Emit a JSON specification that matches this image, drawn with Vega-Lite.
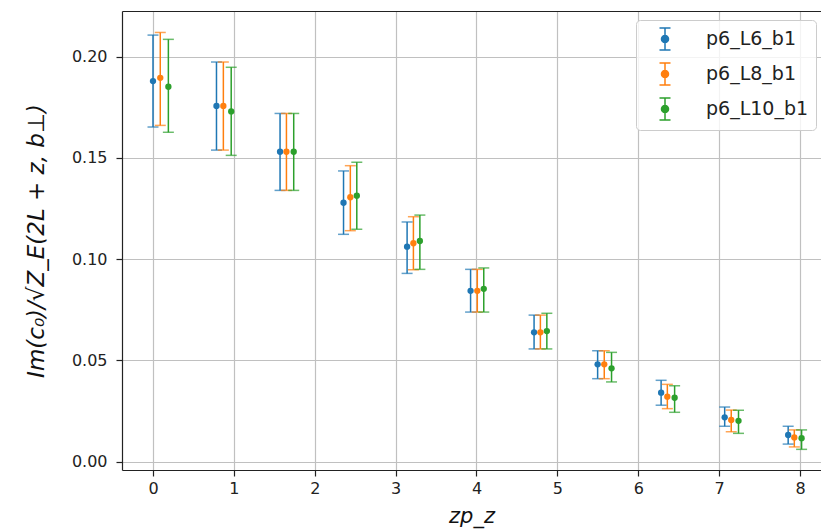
{
  "$schema": "https://vega.github.io/schema/vega-lite/v6.json",
  "autosize": {"type": "none"},
  "padding": {"left": 122, "top": 11, "right": 0, "bottom": 59},
  "width": 699,
  "height": 459,
  "background": "white",
  "config": {
    "font": "DejaVu Sans",
    "view": {"stroke": null},
    "axis": {
      "domainColor": "#222222",
      "domainWidth": 1.2,
      "tickColor": "#222222",
      "tickWidth": 1.2,
      "tickSize": 6,
      "labelFont": "DejaVu Sans",
      "labelFontSize": 16,
      "labelColor": "#222222",
      "labelPadding": 4,
      "gridColor": "#c0c0c0",
      "gridWidth": 1.2,
      "titleFont": "DejaVu Sans",
      "titleFontWeight": "normal",
      "titleFontStyle": "italic",
      "titleColor": "#111111"
    }
  },
  "data": {
    "values": [
      {"series": "p6_L6_b1", "zpz": 0.0, "val": 0.1880, "lo": 0.1653, "hi": 0.2107},
      {"series": "p6_L6_b1", "zpz": 0.785, "val": 0.1757, "lo": 0.1539, "hi": 0.1974},
      {"series": "p6_L6_b1", "zpz": 1.571, "val": 0.1531, "lo": 0.1340, "hi": 0.1720},
      {"series": "p6_L6_b1", "zpz": 2.356, "val": 0.1279, "lo": 0.1123, "hi": 0.1436},
      {"series": "p6_L6_b1", "zpz": 3.142, "val": 0.1062, "lo": 0.0930, "hi": 0.1184},
      {"series": "p6_L6_b1", "zpz": 3.927, "val": 0.0844, "lo": 0.0739, "hi": 0.0950},
      {"series": "p6_L6_b1", "zpz": 4.712, "val": 0.0639, "lo": 0.0557, "hi": 0.0724},
      {"series": "p6_L6_b1", "zpz": 5.498, "val": 0.0481, "lo": 0.0410, "hi": 0.0548},
      {"series": "p6_L6_b1", "zpz": 6.283, "val": 0.0341, "lo": 0.0279, "hi": 0.0402},
      {"series": "p6_L6_b1", "zpz": 7.069, "val": 0.0219, "lo": 0.0175, "hi": 0.0270},
      {"series": "p6_L6_b1", "zpz": 7.854, "val": 0.0132, "lo": 0.0087, "hi": 0.0175},

      {"series": "p6_L8_b1", "zpz": 0.09, "val": 0.1896, "lo": 0.1661, "hi": 0.2120},
      {"series": "p6_L8_b1", "zpz": 0.87, "val": 0.1757, "lo": 0.1539, "hi": 0.1974},
      {"series": "p6_L8_b1", "zpz": 1.65, "val": 0.1531, "lo": 0.1340, "hi": 0.1720},
      {"series": "p6_L8_b1", "zpz": 2.44, "val": 0.1306, "lo": 0.1141, "hi": 0.1462},
      {"series": "p6_L8_b1", "zpz": 3.22, "val": 0.1079, "lo": 0.0948, "hi": 0.1210},
      {"series": "p6_L8_b1", "zpz": 4.01, "val": 0.0844, "lo": 0.0739, "hi": 0.0950},
      {"series": "p6_L8_b1", "zpz": 4.79, "val": 0.0639, "lo": 0.0557, "hi": 0.0724},
      {"series": "p6_L8_b1", "zpz": 5.58, "val": 0.0481, "lo": 0.0410, "hi": 0.0548},
      {"series": "p6_L8_b1", "zpz": 6.36, "val": 0.0321, "lo": 0.0262, "hi": 0.0382},
      {"series": "p6_L8_b1", "zpz": 7.15, "val": 0.0206, "lo": 0.0148, "hi": 0.0255},
      {"series": "p6_L8_b1", "zpz": 7.93, "val": 0.0120, "lo": 0.0073, "hi": 0.0157},

      {"series": "p6_L10_b1", "zpz": 0.19, "val": 0.1852, "lo": 0.1627, "hi": 0.2086},
      {"series": "p6_L10_b1", "zpz": 0.967, "val": 0.1730, "lo": 0.1513, "hi": 0.1948},
      {"series": "p6_L10_b1", "zpz": 1.74, "val": 0.1531, "lo": 0.1340, "hi": 0.1720},
      {"series": "p6_L10_b1", "zpz": 2.52, "val": 0.1314, "lo": 0.1148, "hi": 0.1479},
      {"series": "p6_L10_b1", "zpz": 3.30, "val": 0.1090, "lo": 0.0950, "hi": 0.1218},
      {"series": "p6_L10_b1", "zpz": 4.09, "val": 0.0854, "lo": 0.0739, "hi": 0.0957},
      {"series": "p6_L10_b1", "zpz": 4.87, "val": 0.0645, "lo": 0.0557, "hi": 0.0733},
      {"series": "p6_L10_b1", "zpz": 5.67, "val": 0.0461, "lo": 0.0394, "hi": 0.0540},
      {"series": "p6_L10_b1", "zpz": 6.45, "val": 0.0316, "lo": 0.0244, "hi": 0.0375},
      {"series": "p6_L10_b1", "zpz": 7.24, "val": 0.0202, "lo": 0.0140, "hi": 0.0254},
      {"series": "p6_L10_b1", "zpz": 8.02, "val": 0.0116, "lo": 0.0061, "hi": 0.0157}
    ]
  },
  "encoding": {
    "color": {
      "field": "series",
      "type": "nominal",
      "scale": {
        "domain": ["p6_L6_b1", "p6_L8_b1", "p6_L10_b1"],
        "range": ["#1f77b4", "#ff7f0e", "#2ca02c"]
      },
      "legend": {
        "title": null,
        "orient": "none",
        "legendX": 514,
        "legendY": 9,
        "padding": 7,
        "fillColor": "rgba(255,255,255,0.8)",
        "strokeColor": "#cccccc",
        "cornerRadius": 4,
        "labelFont": "DejaVu Sans",
        "labelFontSize": 19,
        "labelColor": "#222222",
        "labelOffset": 29,
        "labelExpr": "datum.label + '\u2003'",
        "rowPadding": 7,
        "symbolOffset": 10,
        "symbolSize": 484,
        "symbolStrokeWidth": 1.5,
        "symbolType": "M0,-1L0,1M-0.5,-1L0.5,-1M-0.5,1L0.5,1M0.32,0A0.32,0.32,0,1,1,-0.32,0A0.32,0.32,0,1,1,0.32,0Z",
        "encode": {
          "symbols": {
            "update": {
              "fill": {"scale": "color", "field": "value"},
              "stroke": {"scale": "color", "field": "value"},
              "opacity": {"value": 1}
            }
          }
        }
      }
    }
  },
  "layer": [
    {
      "mark": {"type": "rule", "strokeWidth": 1.5},
      "encoding": {
        "x": {
          "field": "zpz",
          "type": "quantitative",
          "scale": {"domain": [-0.3833, 8.26], "nice": false, "zero": false},
          "axis": {
            "orient": "bottom",
            "values": [0, 1, 2, 3, 4, 5, 6, 7, 8],
            "format": "d",
            "grid": true,
            "title": "zp_z",
            "titleFontSize": 21,
            "titlePadding": 9
          }
        },
        "y": {
          "field": "lo",
          "type": "quantitative",
          "scale": {"domain": [-0.0041, 0.2226], "nice": false, "zero": false},
          "axis": {
            "orient": "left",
            "values": [0, 0.05, 0.1, 0.15, 0.2],
            "format": ".2f",
            "grid": true,
            "labelPadding": 9,
            "title": "Im(c₀)/√Z_E(2L + z, b⊥)",
            "titleFontSize": 23,
            "titlePadding": 23
          }
        },
        "y2": {"field": "hi"}
      }
    },
    {
      "mark": {"type": "tick", "orient": "horizontal", "size": 11, "thickness": 1.5},
      "encoding": {
        "x": {
          "field": "zpz",
          "type": "quantitative",
          "scale": {"domain": [-0.3833, 8.26], "nice": false, "zero": false},
          "axis": {
            "orient": "top",
            "labels": false,
            "ticks": false,
            "grid": false,
            "title": null,
            "domain": true
          }
        },
        "y": {
          "field": "lo",
          "type": "quantitative",
          "scale": {"domain": [-0.0041, 0.2226], "nice": false, "zero": false}
        }
      }
    },
    {
      "mark": {"type": "tick", "orient": "horizontal", "size": 11, "thickness": 1.5},
      "encoding": {
        "x": {
          "field": "zpz",
          "type": "quantitative",
          "scale": {"domain": [-0.3833, 8.26], "nice": false, "zero": false},
          "axis": null
        },
        "y": {
          "field": "hi",
          "type": "quantitative",
          "scale": {"domain": [-0.0041, 0.2226], "nice": false, "zero": false}
        }
      }
    },
    {
      "mark": {"type": "point", "filled": true, "size": 40, "opacity": 1},
      "encoding": {
        "x": {
          "field": "zpz",
          "type": "quantitative",
          "scale": {"domain": [-0.3833, 8.26], "nice": false, "zero": false},
          "axis": null
        },
        "y": {
          "field": "val",
          "type": "quantitative",
          "scale": {"domain": [-0.0041, 0.2226], "nice": false, "zero": false}
        }
      }
    }
  ]
}
